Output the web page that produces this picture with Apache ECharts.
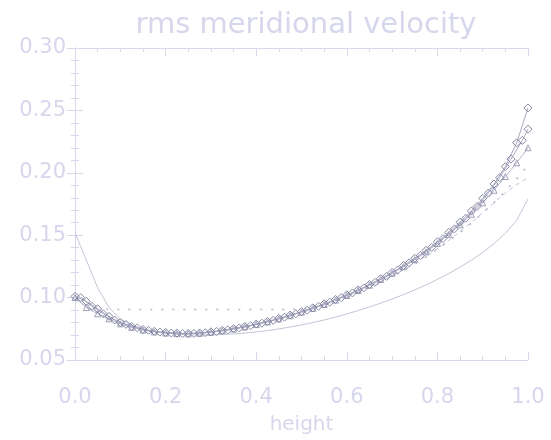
<!DOCTYPE html>
<html>
<head>
<meta charset="utf-8">
<script src="https://cdn.jsdelivr.net/npm/echarts@6/dist/echarts.min.js"></script>
<style>
  html, body { margin: 0; padding: 0; background: #ffffff; }
  #chart { width: 551px; height: 440px; }
</style>
</head>
<body>
<div id="chart"></div>
<script>
// rms meridional velocity profiles against height
const heights = [0, 0.025, 0.05, 0.075, 0.1, 0.125, 0.15, 0.175, 0.2, 0.225, 0.25, 0.275, 0.3, 0.325, 0.35, 0.375, 0.4, 0.425, 0.45, 0.475, 0.5, 0.525, 0.55, 0.575, 0.6, 0.625, 0.65, 0.675, 0.7, 0.725, 0.75, 0.775, 0.8, 0.825, 0.85, 0.875, 0.9, 0.925, 0.95, 0.975, 1.0];
// second run is sampled on a staggered grid
const heightsB = [0.0125, 0.0375, 0.0625, 0.0875, 0.1125, 0.1375, 0.1625, 0.1875, 0.2125, 0.2375, 0.2625, 0.2875, 0.3125, 0.3375, 0.3625, 0.3875, 0.4125, 0.4375, 0.4625, 0.4875, 0.5125, 0.5375, 0.5625, 0.5875, 0.6125, 0.6375, 0.6625, 0.6875, 0.7125, 0.7375, 0.7625, 0.7875, 0.8125, 0.8375, 0.8625, 0.8875, 0.9125, 0.9375, 0.9625, 0.9875, 1.0];

// thin solid profile (lowest at the top boundary)
const vSolid = [0.152, 0.130, 0.108, 0.092, 0.083, 0.078, 0.075, 0.073, 0.0716, 0.0707, 0.0702, 0.0700, 0.0701, 0.0704, 0.0709, 0.0716, 0.0725, 0.0736, 0.0749, 0.0764, 0.0781, 0.0800, 0.0821, 0.0844, 0.0869, 0.0896, 0.0925, 0.0956, 0.0989, 0.1024, 0.1062, 0.1102, 0.1146, 0.1193, 0.1244, 0.1300, 0.1362, 0.1432, 0.1515, 0.1620, 0.1790];

// diamond profiles
const vDiamondA = [0.101, 0.097, 0.091, 0.085, 0.080, 0.0770, 0.0745, 0.0730, 0.0720, 0.0715, 0.0713, 0.0717, 0.0726, 0.0738, 0.0752, 0.0769, 0.0788, 0.0810, 0.0834, 0.0860, 0.0888, 0.0918, 0.0950, 0.0985, 0.1022, 0.1062, 0.1105, 0.1152, 0.1202, 0.1256, 0.1315, 0.1378, 0.1447, 0.1522, 0.1604, 0.1694, 0.1795, 0.1910, 0.2050, 0.2240, 0.2520];
const vDiamondB = [0.100, 0.093, 0.087, 0.082, 0.0785, 0.0758, 0.0738, 0.0724, 0.0716, 0.0712, 0.0713, 0.0719, 0.0729, 0.0742, 0.0757, 0.0775, 0.0795, 0.0818, 0.0843, 0.0870, 0.0899, 0.0930, 0.0963, 0.0999, 0.1037, 0.1078, 0.1122, 0.1170, 0.1222, 0.1278, 0.1338, 0.1403, 0.1474, 0.1551, 0.1636, 0.1730, 0.1838, 0.1962, 0.2110, 0.2260, 0.2350];
const vTriangle = [0.100, 0.092, 0.087, 0.083, 0.0790, 0.0762, 0.0740, 0.0725, 0.0716, 0.0711, 0.0710, 0.0714, 0.0722, 0.0734, 0.0748, 0.0765, 0.0784, 0.0805, 0.0829, 0.0855, 0.0883, 0.0913, 0.0945, 0.0980, 0.1017, 0.1057, 0.1099, 0.1145, 0.1194, 0.1247, 0.1304, 0.1366, 0.1433, 0.1505, 0.1583, 0.1668, 0.1760, 0.1860, 0.1970, 0.2080, 0.2200];

// dash-dot profile with a flat lower section
const vDashDot = [0.098, 0.094, 0.091, 0.0905, 0.0905, 0.0905, 0.0905, 0.0905, 0.0905, 0.0905, 0.0905, 0.0905, 0.0905, 0.0905, 0.0905, 0.0905, 0.0905, 0.0905, 0.0905, 0.0905, 0.0908, 0.0920, 0.0942, 0.0972, 0.1006, 0.1042, 0.1081, 0.1123, 0.1168, 0.1217, 0.1270, 0.1326, 0.1387, 0.1452, 0.1522, 0.1597, 0.1677, 0.1762, 0.1852, 0.1950, 0.2060];
// dashed profile
const vDashed = [0.099, 0.093, 0.088, 0.083, 0.0790, 0.0760, 0.0740, 0.0726, 0.0717, 0.0712, 0.0711, 0.0715, 0.0723, 0.0735, 0.0749, 0.0766, 0.0785, 0.0806, 0.0829, 0.0854, 0.0881, 0.0910, 0.0941, 0.0974, 0.1009, 0.1046, 0.1086, 0.1128, 0.1174, 0.1223, 0.1276, 0.1332, 0.1393, 0.1458, 0.1528, 0.1602, 0.1680, 0.1760, 0.1838, 0.1905, 0.1960];

const xTicks = [0.0, 0.2, 0.4, 0.6, 0.8, 1.0];
const yTicks = [0.05, 0.10, 0.15, 0.20, 0.25, 0.30];

const pair = (xs, v) => xs.map((h, i) => [h, v[i]]);

const faint = '#d6d6ec';
const font = 'DejaVu Sans';

const baseAxis = {
  axisLine: { show: true, lineStyle: { color: '#d8d8ec', width: 1 } },
  axisTick: { show: true, inside: true, length: 8, lineStyle: { color: '#d8d8ec' } },
  minorTick: { show: true, length: 4, lineStyle: { color: '#d8d8ec' } },
  splitLine: { show: false }
};

const chart = echarts.init(document.getElementById('chart'), null, { renderer: 'canvas' });
chart.setOption({
  animation: false,
  backgroundColor: '#ffffff',
  title: {
    text: 'rms meridional velocity',
    left: 301, top: 6, textAlign: 'center',
    textStyle: { color: faint, fontFamily: font, fontSize: 29, fontWeight: 'normal' }
  },
  grid: { left: 75, right: 23, top: 48, bottom: 71 },
  xAxis: [
    Object.assign({}, baseAxis, {
      type: 'value', min: 0, max: 1, interval: 0.2,
      minorTick: Object.assign({}, baseAxis.minorTick, { splitNumber: 4 }),
      name: 'height', nameLocation: 'middle', nameGap: 55,
      nameTextStyle: { color: faint, fontFamily: font, fontSize: 20 },
      axisLabel: { color: faint, fontFamily: font, fontSize: 21, margin: 27,
        formatter: v => xTicks.includes(+v.toFixed(1)) ? v.toFixed(1) : '' }
    }),
    Object.assign({}, baseAxis, {
      type: 'value', min: 0, max: 1, interval: 0.2, position: 'top',
      minorTick: Object.assign({}, baseAxis.minorTick, { splitNumber: 4 }),
      axisLabel: { show: false }
    })
  ],
  yAxis: [
    Object.assign({}, baseAxis, {
      type: 'value', min: 0.05, max: 0.30, interval: 0.05,
      minorTick: Object.assign({}, baseAxis.minorTick, { splitNumber: 5 }),
      axisLabel: { color: faint, fontFamily: font, fontSize: 21, margin: 9,
        formatter: v => yTicks.includes(+v.toFixed(2)) ? v.toFixed(2) : '' }
    }),
    Object.assign({}, baseAxis, {
      type: 'value', min: 0.05, max: 0.30, interval: 0.05, position: 'right',
      minorTick: Object.assign({}, baseAxis.minorTick, { splitNumber: 5 }),
      axisLabel: { show: false }
    })
  ],
  series: [
    { type: 'line', data: pair(heights, vSolid), symbol: 'none',
      lineStyle: { color: '#c4c4d8', width: 1 } },
    { type: 'line', data: pair(heights, vDashed), symbol: 'none',
      lineStyle: { color: '#c0c0d6', width: 1, type: [4, 4] } },
    { type: 'line', data: pair(heights, vDashDot), symbol: 'none',
      lineStyle: { color: '#b4b4cc', width: 1.5, type: [2, 9] } },
    { type: 'line', data: pair(heights, vTriangle), symbol: 'triangle', symbolSize: 6,
      itemStyle: { color: 'transparent', borderColor: '#a0a0bc', borderWidth: 1 },
      lineStyle: { color: '#b4b4cc', width: 1 } },
    { type: 'line', data: pair(heightsB, vDiamondB), symbol: 'diamond', symbolSize: 8,
      itemStyle: { color: 'transparent', borderColor: '#8c8ca8', borderWidth: 1 },
      lineStyle: { color: '#acacc4', width: 1 } },
    { type: 'line', data: pair(heights, vDiamondA), symbol: 'diamond', symbolSize: 8,
      itemStyle: { color: 'transparent', borderColor: '#84849e', borderWidth: 1 },
      lineStyle: { color: '#a8a8c2', width: 1 } }
  ]
});
</script>
</body>
</html>
